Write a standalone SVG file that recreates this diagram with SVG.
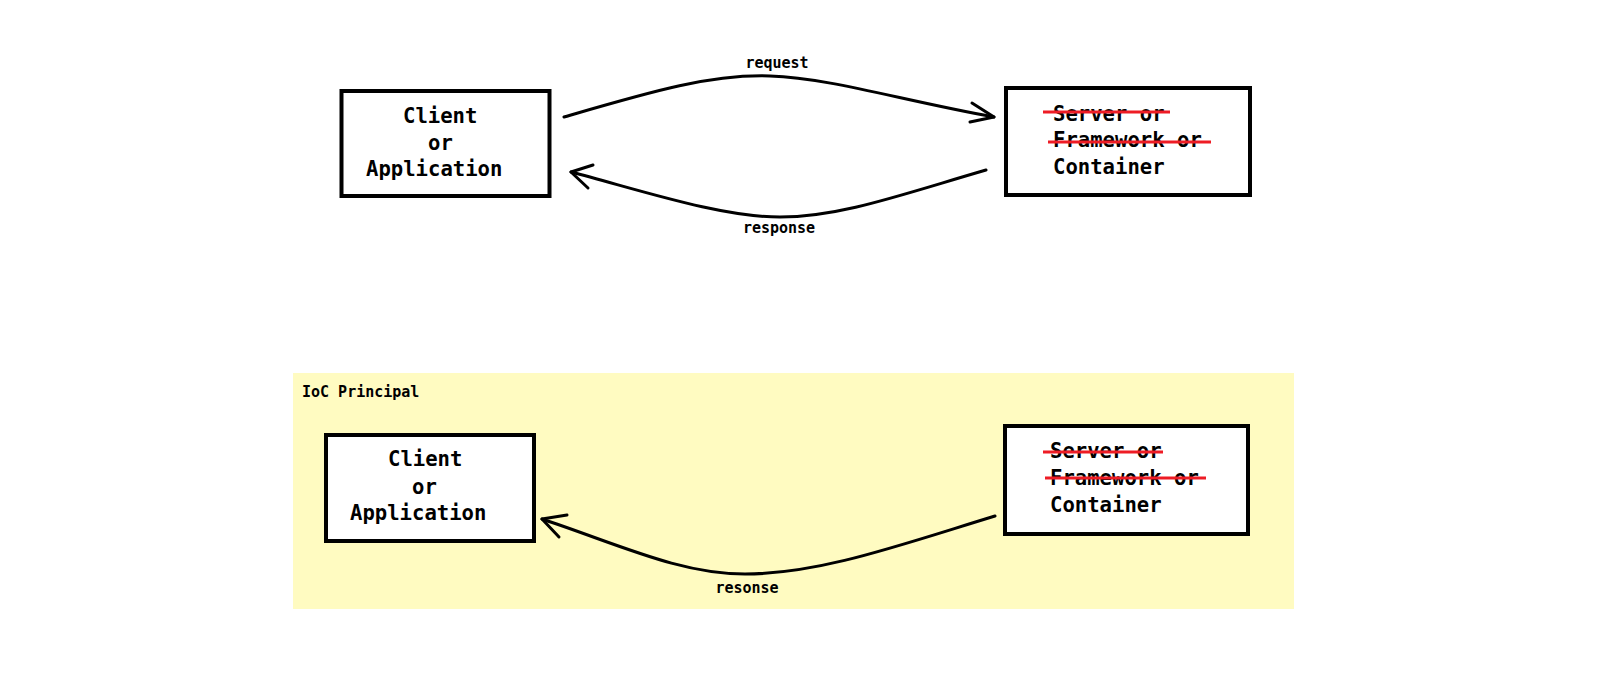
<svg xmlns="http://www.w3.org/2000/svg" width="1600" height="681" viewBox="0 0 1600 681">
<style>
.box{fill:#fff;stroke:#000;stroke-width:4}
.t{font-family:"DejaVu Sans Mono","Liberation Mono",monospace;font-weight:bold;font-size:20.6px;fill:#000}
.s{font-family:"DejaVu Sans Mono","Liberation Mono",monospace;font-weight:bold;font-size:15px;fill:#000}
.strike{stroke:#ee1c25;stroke-width:3;fill:none}
.conn{stroke:#000;stroke-width:3;fill:none;stroke-linecap:round;stroke-linejoin:round}
</style>
<rect x="0" y="0" width="1600" height="681" fill="#fff"/>
<rect id="ioc-panel" x="293" y="373" width="1001" height="236" fill="#fffbc1"/>
<text class="s" x="302" y="397">IoC Principal</text>

<g id="client-top">
<rect class="box" x="341.5" y="91" width="208" height="105"/>
<text class="t" x="403" y="123">Client</text>
<text class="t" x="428" y="150">or</text>
<text class="t" x="366" y="176">Application</text>
</g>
<g id="server-top">
<rect class="box" x="1006" y="88" width="244" height="107"/>
<text class="t" x="1053" y="121">Server or</text>
<text class="t" x="1053" y="147">Framework or</text>
<text class="t" x="1053" y="174">Container</text>
<line class="strike" x1="1043" y1="112" x2="1170" y2="112"/>
<line class="strike" x1="1048" y1="142" x2="1211" y2="142"/>
</g>

<g id="client-bottom">
<rect class="box" x="326" y="435" width="208" height="106"/>
<text class="t" x="388" y="466">Client</text>
<text class="t" x="412" y="494">or</text>
<text class="t" x="350" y="520">Application</text>
</g>
<g id="server-bottom">
<rect class="box" x="1005" y="426" width="243" height="108"/>
<text class="t" x="1050" y="458">Server or</text>
<text class="t" x="1050" y="485">Framework or</text>
<text class="t" x="1050" y="512">Container</text>
<line class="strike" x1="1043" y1="452" x2="1163" y2="452"/>
<line class="strike" x1="1045" y1="478" x2="1206" y2="478"/>
</g>

<g id="connectors">
<path class="conn" d="M564,117 C650,92 710,74 770,76 C830,78 900,100 994,117"/>
<path class="conn" d="M972,103 L994,117 L970,122"/>
<text class="s" x="777" y="68" text-anchor="middle">request</text>

<path class="conn" d="M986,170 C900,195 840,217 780,217 C720,217 640,190 571,172"/>
<path class="conn" d="M593,165 L571,172 L588,188"/>
<text class="s" x="779" y="233" text-anchor="middle">response</text>

<path class="conn" d="M995,516 C900,545 820,574 745,574 C680,574 620,545 542,519"/>
<path class="conn" d="M567,515 L542,519 L559,537"/>
<text class="s" x="747" y="593" text-anchor="middle">resonse</text>
</g>
</svg>
